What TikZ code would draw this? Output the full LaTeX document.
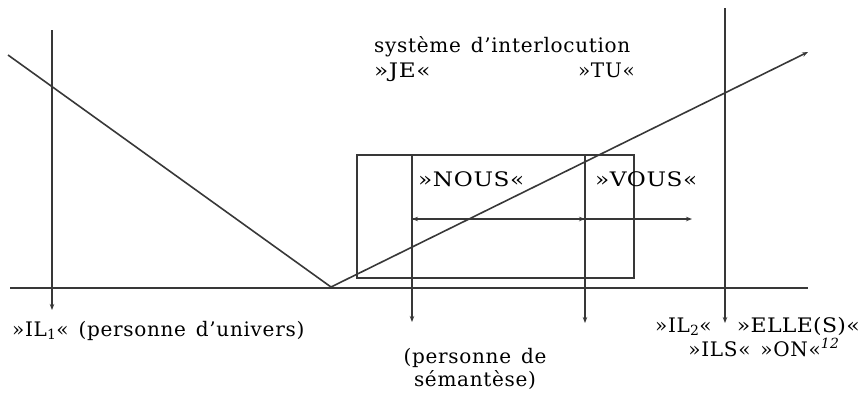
\documentclass[tikz,border=0pt]{standalone}
\usepackage{fontspec}
\setmainfont[LetterSpace=3.5,WordSpace=1.4]{DejaVu Serif}
\newfontfamily\capsfont[FakeStretch=1.16,LetterSpace=3]{DejaVu Serif}
\newfontfamily\ellefont[FakeStretch=1.1,LetterSpace=1.5]{DejaVu Serif}
\usetikzlibrary{arrows.meta}
\begin{document}
\begin{tikzpicture}[x=1pt,y=-1pt,
  ln/.style={line width=1.6pt,draw=black!78},
  arr/.style={ln,-{Stealth[length=6pt,width=4.5pt]}},
  lbl/.style={font=\fontsize{20}{23}\selectfont,text=black,inner sep=0pt},
  caps/.style={lbl,font=\fontsize{20}{23}\selectfont\capsfont},
  ellecaps/.style={lbl,font=\fontsize{20}{23}\selectfont\ellefont}]
\useasboundingbox (0,0) rectangle (860,392);
% coordinates
\coordinate (bl) at (10,288);
\coordinate (br) at (808,288);
\coordinate (dl) at (8,55);
\coordinate (v) at (331,287);
\coordinate (ur) at (808,52);
\coordinate (l1t) at (52,30);
\coordinate (l1b) at (52,310);
\coordinate (r1t) at (725,8);
\coordinate (r1b) at (725,323);
\coordinate (bx1) at (357,155);
\coordinate (bx2) at (634,278);
\coordinate (vat) at (412,155);
\coordinate (vab) at (412,322);
\coordinate (vbt) at (585,155);
\coordinate (vbb) at (585,323);
\coordinate (ha) at (412,219);
\coordinate (hb) at (585,219);
\coordinate (hc) at (692,219);
% lines
\draw[ln] (bl) -- (br);
\draw[ln] (dl) -- (v);
\draw[arr] (v) -- (ur);
\draw[arr] (l1t) -- (l1b);
\draw[arr] (r1t) -- (r1b);
\draw[ln] (bx1) rectangle (bx2);
\draw[arr] (vat) -- (vab);
\draw[arr] (vbt) -- (vbb);
\draw[arr] (hb) -- (ha);
\draw[arr] (ha) -- (hb);
\draw[arr] (hb) -- (hc);
% texts
\node[lbl,anchor=base west] (sys) at (374,52) {système d’interlocution};
\node[caps,anchor=base west] (je) at (374,77) {»JE«};
\node[lbl,anchor=base east] (tu) at (635,77) {»TU«};
\node[caps,anchor=base west] (nous) at (418,186) {»NOUS«};
\node[caps,anchor=base west] (vous) at (595,186) {»VOUS«};
\node[lbl,anchor=base west] (il1) at (12,336) {»IL\textsubscript{1}« (personne d’univers)};
\node[lbl,anchor=base,align=center] (sem) at (475,386) {(personne de\\sémantèse)};
\node[lbl,anchor=base west] (il2) at (655,332) {»IL\textsubscript{2}«};
\node[ellecaps,anchor=base east] (elle) at (860,332) {»ELLE(S)«};
\node[lbl,anchor=base] (ils) at (764,356) {»ILS« »ON«\textsuperscript{\itshape 12}};
\end{tikzpicture}
\end{document}
